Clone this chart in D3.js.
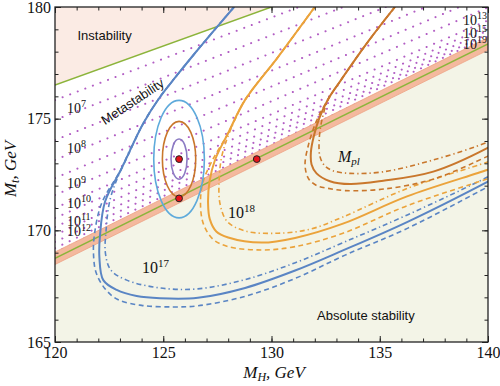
<!DOCTYPE html>
<html>
<head>
<meta charset="utf-8">
<script src="https://cdn.jsdelivr.net/npm/d3@7"></script>
<style>
  body { margin: 0; background: #fff; }
  text { font-family: "Liberation Serif", "DejaVu Serif", serif; }
  .sans { font-family: "Liberation Sans", Arial, sans-serif; }
</style>
</head>
<body>
<div id="chart"></div>
<script>
// axis ticks
const xMajor = [120, 125, 130, 135, 140];
const yMajor = [165, 170, 175, 180];
const xMinor = d3.range(120, 141, 1);
const yMinor = d3.range(165, 181, 1);

// region boundaries [MH, Mt]
const instabilityLine = [[120, 176.5], [140, 183.5]];
const stabilityLine = [[120, 168.75], [140, 178.35]];
const bandUpper = [[120, 169.03], [140, 178.63]];
const bandLower = [[120, 168.47], [140, 178.07]];

// dotted lines of the instability scale: Mt at MH=120 and at MH=140
const scaleExp = [7, 8, 9, 10, 11, 12, 13, 14, 15, 16, 17, 18, 19];
const scaleLeft = [175.83, 174.94, 174.04, 173.15, 172.34, 171.58, 171.0, 170.55, 170.15, 169.79, 169.48, 169.2, 169.0];
const scaleRight = [183.23, 182.54, 181.84, 181.15, 180.54, 179.98, 179.4, 179.15, 178.95, 178.79, 178.68, 178.5, 178.44];

// 10^17 curves (blue)
const blueSolid = [[128.27, 180], [127.3, 178.9], [126.47, 177.94], [125.6, 176.9], [124.85, 175.97], [124.08, 174.79],
  [123.08, 172.78], [122.31, 171.28], [122.08, 169.79], [122.05, 168.8], [122.23, 167.77], [122.85, 167.33],
  [123.77, 167.06], [124.85, 166.96], [126.6, 166.98], [128.78, 167.42], [131.09, 168.2], [133.3, 169.1],
  [136.26, 170.37], [139.95, 172.16], [140.5, 172.45]];
const blueDashed = [[128.27, 180], [127.3, 178.9], [126.47, 177.94], [125.6, 176.9], [124.85, 175.97], [124.08, 174.79],
  [123.08, 172.78], [122.15, 171.2], [121.82, 169.8], [121.78, 168.9], [121.9, 168.1], [122.3, 167.4],
  [122.9, 166.9], [124.0, 166.64], [125.5, 166.57], [126.6, 166.62], [128.8, 167.05], [131.1, 167.85],
  [133.4, 168.89], [136.3, 170.1], [140.0, 171.95], [140.5, 172.2]];
const blueDashDot = [[128.27, 180], [127.3, 178.9], [126.47, 177.94], [125.6, 176.9], [124.85, 175.97], [124.08, 174.79],
  [123.08, 172.78], [122.55, 171.4], [122.36, 170.0], [122.33, 168.97], [122.58, 168.22], [123.31, 167.77],
  [124.85, 167.42], [126.6, 167.38], [128.8, 167.8], [131.1, 168.55], [133.4, 169.49], [136.3, 170.7],
  [140.0, 172.4], [140.5, 172.68]];

// 10^18 curves (orange)
const orangeSolid = [[132.0, 180], [130.3, 177.76], [128.78, 175.84], [128.0, 174.36], [127.39, 173.15],
  [127.14, 172.2], [127.07, 171.2], [127.15, 170.5], [127.45, 169.95], [128.0, 169.68], [129.55, 169.45],
  [131.09, 169.66], [133.3, 170.3], [136.26, 171.52], [139.95, 172.7], [140.5, 172.9]];
const orangeDashed = [[132.0, 180], [130.3, 177.76], [128.78, 175.84], [128.0, 174.36], [127.25, 173.1],
  [126.85, 172.2], [126.72, 171.3], [126.85, 170.3], [127.3, 169.6], [128.0, 169.27], [129.55, 169.12],
  [131.09, 169.27], [133.3, 169.87], [136.26, 171.1], [139.95, 172.3], [140.5, 172.5]];
const orangeDashDot = [[132.0, 180], [130.3, 177.76], [128.78, 175.84], [128.05, 174.36], [127.7, 173.3],
  [127.58, 172.2], [127.62, 171.2], [127.95, 170.4], [128.78, 169.97], [130.31, 169.87], [131.86, 170.07],
  [133.3, 170.6], [136.26, 171.87], [139.95, 173.05], [140.5, 173.25]];

// Planck mass curves (dark orange)
const mplSolid = [[135.7, 180], [134.4, 178.37], [133.16, 176.66], [132.6, 175.85], [132.2, 175.0], [131.95, 174.2],
  [131.82, 173.5], [131.85, 172.95], [132.08, 172.55], [132.7, 172.2], [133.63, 172.07], [135.16, 172.22],
  [137.47, 172.63], [139.94, 173.67], [140.5, 174.0]];
const mplDashed = [[135.7, 180], [134.4, 178.37], [133.16, 176.66], [132.6, 175.85], [132.08, 174.9],
  [131.7, 173.8], [131.55, 172.9], [131.72, 172.3], [132.1, 172.0], [132.62, 171.88], [133.4, 171.78],
  [135.2, 171.85], [137.5, 172.3], [139.95, 173.3], [140.5, 173.55]];
const mplDashDot = [[135.7, 180], [134.4, 178.37], [133.16, 176.66], [132.62, 175.85], [132.32, 174.9],
  [132.2, 174.0], [132.24, 173.3], [132.45, 172.9], [132.8, 172.68], [133.63, 172.55], [135.16, 172.62],
  [137.47, 173.15], [139.94, 173.93], [140.5, 174.2]];

// best fit points and error ellipses (center MH, Mt; half-axes)
const bestFit = [[125.73, 173.19], [125.73, 171.43], [129.32, 173.19]];
const ellipseRx = [1.17, 0.77, 0.37];
const ellipseRy = [2.63, 1.69, 0.9];

const W = 500, H = 386;
const margin = {top: 7, right: 12, bottom: 44, left: 55};

const svg = d3.select("#chart").append("svg")
  .attr("width", W).attr("height", H);

const x = d3.scaleLinear().domain([120, 140]).range([margin.left, W - margin.right]);
const y = d3.scaleLinear().domain([165, 180]).range([H - margin.bottom, margin.top]);

svg.append("defs").append("clipPath").attr("id", "plot")
  .append("rect")
  .attr("x", x(120)).attr("y", y(180))
  .attr("width", x(140) - x(120)).attr("height", y(165) - y(180));

const g = svg.append("g").attr("clip-path", "url(#plot)");

const line = d3.line().x(d => x(d[0])).y(d => y(d[1]));
const smooth = d3.line().x(d => x(d[0])).y(d => y(d[1])).curve(d3.curveCatmullRom.alpha(0.5));

// dotted metastability lines (drawn first, the fills cover what lies outside)
scaleExp.forEach(function(e, i) {
  g.append("path")
    .attr("d", line([[120, scaleLeft[i]], [140, scaleRight[i]]]))
    .attr("fill", "none")
    .attr("stroke", "#b25ec4")
    .attr("stroke-width", 2)
    .attr("stroke-linecap", "round")
    .attr("stroke-dasharray", "0.1,8");
});

// instability region
g.append("path")
  .datum(instabilityLine)
  .attr("d", d3.area().x(d => x(d[0])).y0(d => y(d[1])).y1(y(185)))
  .attr("fill", "#fbebe4");

// absolute stability region
g.append("path")
  .datum(stabilityLine)
  .attr("d", d3.area().x(d => x(d[0])).y0(d => y(d[1])).y1(y(165)))
  .attr("fill", "#f3f4e7");

// error band round the stability line
g.append("path")
  .attr("d", line(bandUpper.concat(bandLower.slice().reverse())) + "Z")
  .attr("fill", "#f4b99e")
  .attr("stroke", "#eea184")
  .attr("stroke-width", 0.8);

g.append("path").attr("d", line(stabilityLine))
  .attr("fill", "none").attr("stroke", "#8cb43b").attr("stroke-width", 1.5);
g.append("path").attr("d", line(instabilityLine))
  .attr("fill", "none").attr("stroke", "#8cb43b").attr("stroke-width", 1.5);

// curves
const dashed = "5,3.5", dashDot = "5,3,1.3,3";
const curves = [
  [blueDashed, "#5a85c4", dashed], [blueDashDot, "#5a85c4", dashDot], [blueSolid, "#5a85c4", null],
  [orangeDashed, "#eba33b", dashed], [orangeDashDot, "#eba33b", dashDot], [orangeSolid, "#eba33b", null],
  [mplDashed, "#c9772c", dashed], [mplDashDot, "#c9772c", dashDot], [mplSolid, "#c9772c", null]
];
curves.forEach(function(c) {
  g.append("path")
    .attr("d", smooth(c[0]))
    .attr("fill", "none")
    .attr("stroke", c[1])
    .attr("stroke-width", c[2] ? 1.6 : 2)
    .attr("stroke-dasharray", c[2]);
});

// ellipses
const ellColors = ["#5eaadb", "#c9772c", "#8b7bc3"];
ellipseRx.forEach(function(rx, i) {
  g.append("ellipse")
    .attr("cx", x(bestFit[0][0])).attr("cy", y(bestFit[0][1]))
    .attr("rx", x(120 + rx) - x(120))
    .attr("ry", y(165) - y(165 + ellipseRy[i]))
    .attr("fill", "none")
    .attr("stroke", ellColors[i])
    .attr("stroke-width", 1.6);
});

g.selectAll(".pt").data(bestFit).enter().append("circle")
  .attr("cx", d => x(d[0])).attr("cy", d => y(d[1]))
  .attr("r", 3.4)
  .attr("fill", "#e5141b").attr("stroke", "#222").attr("stroke-width", 1);

// labels
function pow(px, py, exp, size, sup, anchor) {
  const t = svg.append("text")
    .attr("x", x(px)).attr("y", y(py))
    .attr("font-size", size).attr("fill", "#111")
    .attr("text-anchor", anchor || "start");
  t.append("tspan").text("10");
  t.append("tspan").attr("dy", -size * 0.4).attr("font-size", sup).text(exp);
}
const leftPos = [175.25, 173.46, 171.89, 171.0, 170.19, 169.74];
[7, 8, 9, 10, 11, 12].forEach((e, i) => pow(120.55, leftPos[i], e, 14, 10));
const rightPos = [179.19, 178.61, 178.12];
[13, 15, 19].forEach((e, i) => pow(139.95, rightPos[i], e, 14, 10, "end"));
pow(124.02, 168.09, 17, 16, 11);
pow(127.99, 170.55, 18, 16, 11);

const mpl = svg.append("text").attr("x", x(133.07)).attr("y", y(173.06))
  .attr("font-size", 16).attr("font-style", "italic").attr("fill", "#111");
mpl.append("tspan").text("M");
mpl.append("tspan").attr("dy", 3).attr("font-size", 11).text("pl");

svg.append("text").attr("class", "sans")
  .attr("x", x(122.29)).attr("y", y(178.52))
  .attr("text-anchor", "middle").attr("font-size", 13).attr("fill", "#111")
  .text("Instability");
svg.append("text").attr("class", "sans")
  .attr("transform", "translate(" + x(123.58) + "," + y(175.77) + ")rotate(-33.5)")
  .attr("text-anchor", "middle").attr("dy", "0.35em").attr("font-size", 13).attr("fill", "#111")
  .text("Metastability");
svg.append("text").attr("class", "sans")
  .attr("x", x(134.36)).attr("y", y(165.98))
  .attr("text-anchor", "middle").attr("font-size", 13).attr("fill", "#111")
  .text("Absolute stability");

// axes, ticks inward on all four sides
const axes = svg.append("g");
function tickAxis(axis, tr) {
  return axes.append("g").attr("transform", tr).call(axis);
}
tickAxis(d3.axisBottom(x).tickValues(xMajor).tickSize(-6).tickPadding(5).tickFormat(d3.format("d")),
  "translate(0," + y(165) + ")");
tickAxis(d3.axisBottom(x).tickValues(xMinor).tickSize(-3.5).tickFormat(""), "translate(0," + y(165) + ")");
tickAxis(d3.axisTop(x).tickValues(xMajor).tickSize(-6).tickFormat(""), "translate(0," + y(180) + ")");
tickAxis(d3.axisTop(x).tickValues(xMinor).tickSize(-3.5).tickFormat(""), "translate(0," + y(180) + ")");
tickAxis(d3.axisLeft(y).tickValues(yMajor).tickSize(-6).tickPadding(4).tickFormat(d3.format("d")),
  "translate(" + x(120) + ",0)");
tickAxis(d3.axisLeft(y).tickValues(yMinor).tickSize(-3.5).tickFormat(""), "translate(" + x(120) + ",0)");
tickAxis(d3.axisRight(y).tickValues(yMajor).tickSize(-6).tickFormat(""), "translate(" + x(140) + ",0)");
tickAxis(d3.axisRight(y).tickValues(yMinor).tickSize(-3.5).tickFormat(""), "translate(" + x(140) + ",0)");

axes.selectAll(".domain").remove();
axes.selectAll(".tick line").attr("stroke", "#222");
axes.selectAll(".tick text")
  .attr("font-family", "'Liberation Serif', 'DejaVu Serif', serif")
  .attr("font-size", 16).attr("fill", "#111");

svg.append("rect")
  .attr("x", x(120)).attr("y", y(180))
  .attr("width", x(140) - x(120)).attr("height", y(165) - y(180))
  .attr("fill", "none").attr("stroke", "#222").attr("stroke-width", 1.3);

// axis titles
const xt = svg.append("text")
  .attr("x", 274).attr("y", 378)
  .attr("text-anchor", "middle").attr("font-size", 17).attr("font-style", "italic").attr("fill", "#111");
xt.append("tspan").text("M");
xt.append("tspan").attr("dy", 3).attr("font-size", 12).text("H");
xt.append("tspan").attr("dy", -3).text(", GeV");

const yt = svg.append("text")
  .attr("transform", "translate(16,169)rotate(-90)")
  .attr("text-anchor", "middle").attr("font-size", 17).attr("font-style", "italic").attr("fill", "#111");
yt.append("tspan").text("M");
yt.append("tspan").attr("dy", 3).attr("font-size", 12).text("t");
yt.append("tspan").attr("dy", -3).text(", GeV");
</script>
</body>
</html>
